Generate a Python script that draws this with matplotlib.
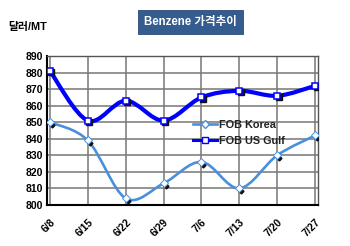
import numpy as np
import matplotlib
matplotlib.use('Agg')
import matplotlib.pyplot as plt
from matplotlib.path import Path
from matplotlib.patches import PathPatch
from matplotlib import transforms

plt.rcParams['font.family'] = ['Liberation Sans', 'Noto Sans CJK KR']

dates = ['6/8', '6/15', '6/22', '6/29', '7/6', '7/13', '7/20', '7/27']
korea = [850, 839, 804, 813, 826, 810, 830, 842]
usgulf = [881, 851, 863, 851, 865, 869, 866, 872]
yticks = [800, 810, 820, 830, 840, 850, 860, 870, 880, 890]


def smooth_path(xs, ys):
    # bezier path through the points (like excel smoothed lines)
    pts = np.column_stack([xs, ys]).astype(float)
    verts = [pts[0]]
    codes = [Path.MOVETO]
    n = len(pts)
    for i in range(n - 1):
        p0 = pts[max(i - 1, 0)]
        p1 = pts[i]
        p2 = pts[i + 1]
        p3 = pts[min(i + 2, n - 1)]
        c1 = p1 + (p2 - p0) / 6.0
        c2 = p2 - (p3 - p1) / 6.0
        verts += [c1, c2, p2]
        codes += [Path.CURVE4] * 3
    return Path(verts, codes)


fig = plt.figure(figsize=(3.5, 2.46), dpi=100)
ax = fig.add_axes([0.134, 0.167, 0.775, 0.605])

x = np.arange(len(dates))
shadow_k = transforms.offset_copy(ax.transData, fig=fig, x=2.0, y=-3.0, units='dots')
shadow_u = transforms.offset_copy(ax.transData, fig=fig, x=1.5, y=-1.5, units='dots')

ax.add_patch(PathPatch(smooth_path(x, korea), fill=False, edgecolor='#4a8fdc', lw=1.9, zorder=3))
ax.add_patch(PathPatch(smooth_path(x, usgulf), fill=False, edgecolor='#0000ff', lw=3.0, zorder=4))

ax.plot(x, korea, linestyle='none', marker='D', ms=2.5, color='#111111', transform=shadow_k, zorder=3)
ax.plot(x, usgulf, linestyle='none', marker='s', ms=5, color='#111111', transform=shadow_u, zorder=4)

ax.plot(x, korea, marker='D', ms=3.8, mfc='white', mec='#4a8fdc',
        mew=0.7, linestyle='none', zorder=5)
ax.plot(x, usgulf, marker='s', ms=5, mfc='white', mec='#0000ff',
        mew=1.1, linestyle='none', zorder=6)

# legend handles
ax.plot([], [], color='#4a8fdc', lw=1.9, marker='D', ms=3.8, mfc='white', mec='#4a8fdc',
        label='FOB Korea')
ax.plot([], [], color='#0000ff', lw=2.2, marker='s', ms=5, mfc='white', mec='#0000ff',
        label='FOB US Gulf')
leg = ax.legend(loc='upper left', bbox_to_anchor=(0.54, 0.572), frameon=False,
                prop={'weight': 'bold', 'size': 7.8}, handlelength=2.2,
                handletextpad=0.15, labelspacing=0.55, borderaxespad=0, borderpad=0)
for t in leg.get_texts():
    t.set_color('#222222')

ax.set_xlim(-0.08, 7.08)
ax.set_ylim(800, 890)
ax.set_yticks(yticks)
ax.set_xticks(x)
ax.set_xticklabels(dates, rotation=45, ha='right', rotation_mode='anchor')
ax.grid(True, color='#777777', lw=1.1)
ax.set_axisbelow(True)
ax.tick_params(axis='both', length=0, labelsize=7.5, pad=3)
ax.tick_params(axis='x', pad=9)
for lab in ax.get_xticklabels() + ax.get_yticklabels():
    lab.set_fontweight('bold')
for side in ['left', 'bottom']:
    ax.spines[side].set_color('black')
    ax.spines[side].set_linewidth(1.5)
for side in ['top', 'right']:
    ax.spines[side].set_color('#555555')
    ax.spines[side].set_linewidth(1.0)

fig.text(0.544, 0.91, 'Benzene 가격추이', ha='center', va='center', color='white',
         fontsize=8.3, fontweight='bold',
         bbox=dict(boxstyle='square,pad=0.55', fc='#355c8f', ec='#2a4a78', lw=0.6))
fig.text(0.023, 0.89, '달러/MT', ha='left', va='center', fontsize=7.8, fontweight='bold')

fig.savefig('out.png', dpi=100)
